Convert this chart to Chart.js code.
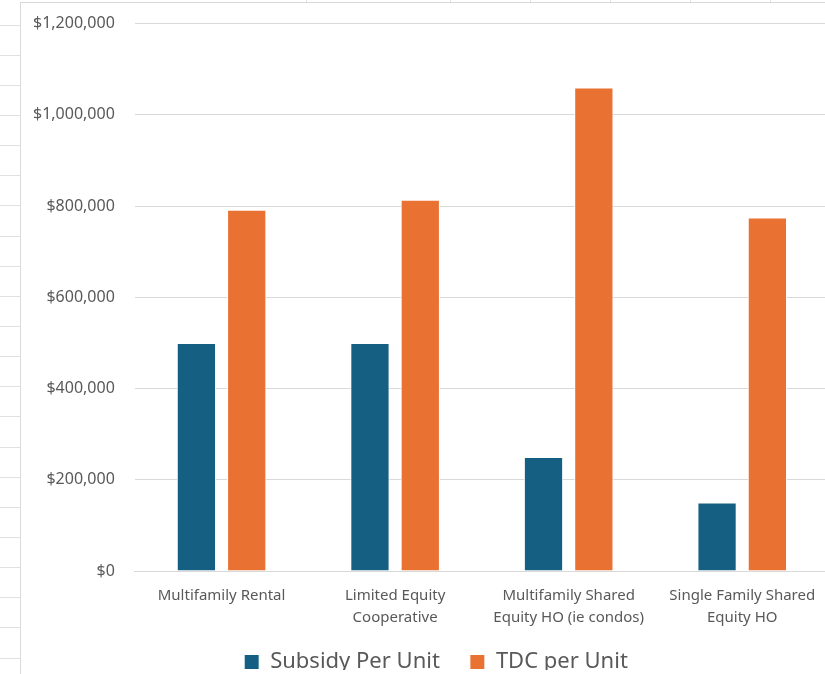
<!DOCTYPE html>
<html>
<head>
<meta charset="utf-8">
<title>Subsidy and TDC per Unit</title>
<script src="https://cdn.jsdelivr.net/npm/chart.js@4.4.1/dist/chart.umd.min.js"></script>
<style>
  html, body {
    margin: 0;
    padding: 0;
    width: 825px;
    height: 674px;
    overflow: hidden;
    background: #fff;
  }
  /* worksheet cells peeking out around the chart */
  .sheet {
    position: absolute;
    left: 0;
    top: 0;
    width: 825px;
    height: 674px;
    background:
      repeating-linear-gradient(to bottom, transparent 0, transparent 24.5px, #e1e1e1 24.5px, #e1e1e1 25.5px, transparent 25.5px, transparent 30.15px);
  }
  .cols {
    position: absolute;
    left: 0;
    top: 0;
    width: 825px;
    height: 3px;
    background:
      linear-gradient(to right, transparent 306px, #e1e1e1 306px, #e1e1e1 307px, transparent 307px),
      linear-gradient(to right, transparent 450px, #e1e1e1 450px, #e1e1e1 451px, transparent 451px),
      linear-gradient(to right, transparent 530px, #e1e1e1 530px, #e1e1e1 531px, transparent 531px),
      linear-gradient(to right, transparent 610px, #e1e1e1 610px, #e1e1e1 611px, transparent 611px),
      linear-gradient(to right, transparent 690px, #e1e1e1 690px, #e1e1e1 691px, transparent 691px),
      linear-gradient(to right, transparent 770px, #e1e1e1 770px, #e1e1e1 771px, transparent 771px);
  }
  .frame {
    position: absolute;
    left: 20px;
    top: 2px;
    width: 808px;
    height: 700px;
    overflow: hidden;
    background: #fff;
    border-left: 1px solid #d9d9d9;
    border-top: 1px solid #d9d9d9;
  }
  #chart {
    position: absolute;
    left: -8px;
    top: -9px;
  }
</style>
</head>
<body>
<div class="sheet"></div>
<div class="cols"></div>
<div class="frame">
  <canvas id="chart" width="816" height="689"></canvas>
</div>
<script>
  var categories = [
    'Multifamily Rental',
    ['Limited Equity', 'Cooperative'],
    ['Multifamily Shared', 'Equity HO (ie condos)'],
    ['Single Family Shared', 'Equity HO']
  ]
  var subsidyPerUnit = [500000, 500000, 250000, 150000]
  var tdcPerUnit = [792000, 814000, 1060000, 775000]
  var yTicks = [0, 200000, 400000, 600000, 800000, 1000000, 1200000]

  var textGrey = '#595959'
  var font = 'Noto Sans, Liberation Sans, sans-serif'
  var legendTrim = 13

  function money (v) {
    return '$' + Number(v).toLocaleString('en-US')
  }

  // nudge the legend right of the canvas centre and pull it up towards the axis
  var legendNudge = {
    id: 'legendNudge',
    afterLayout: function (chart) {
      chart.legend.left += 15
      chart.legend.right += 15
      chart.legend.top -= legendTrim
      chart.legend.bottom -= legendTrim
    }
  }

  var chart = new Chart(document.getElementById('chart'), {
    type: 'bar',
    data: {
      labels: categories,
      datasets: [{
        label: 'Subsidy Per Unit',
        data: subsidyPerUnit,
        backgroundColor: '#156082',
        borderColor: '#ffffff',
        borderWidth: 1,
        categoryPercentage: 0.58,
        barPercentage: 0.78
      }, {
        label: 'TDC per Unit',
        data: tdcPerUnit,
        backgroundColor: '#E97132',
        borderColor: '#ffffff',
        borderWidth: 1,
        categoryPercentage: 0.58,
        barPercentage: 0.78
      }]
    },
    plugins: [legendNudge],
    options: {
      responsive: false,
      animation: false,
      layout: { padding: 0 },
      plugins: {
        tooltip: { enabled: false },
        legend: {
          position: 'bottom',
          labels: {
            color: textGrey,
            font: { family: font, size: 22 },
            boxWidth: 15,
            boxHeight: 15,
            padding: 30
          }
        }
      },
      scales: {
        x: {
          grid: { display: false },
          border: { color: '#d9d9d9' },
          ticks: {
            color: textGrey,
            font: { family: font, size: 15, lineHeight: 1.5 },
            maxRotation: 0,
            autoSkip: false,
            padding: 5
          }
        },
        y: {
          min: 0,
          max: 1200000,
          afterBuildTicks: function (axis) {
            axis.ticks = yTicks.map(function (v) { return { value: v } })
          },
          grid: { color: '#d9d9d9', drawTicks: false },
          border: { display: false },
          ticks: {
            color: textGrey,
            font: { family: font, size: 16 },
            padding: 20,
            callback: function (v) { return money(v) }
          }
        }
      }
    }
  })

  // the wide item padding also makes the legend tall; take some of that back
  var legendFit = chart.legend.fit
  chart.legend.fit = function () {
    legendFit.call(this)
    this.height -= legendTrim
  }
  chart.update()
</script>
</body>
</html>
